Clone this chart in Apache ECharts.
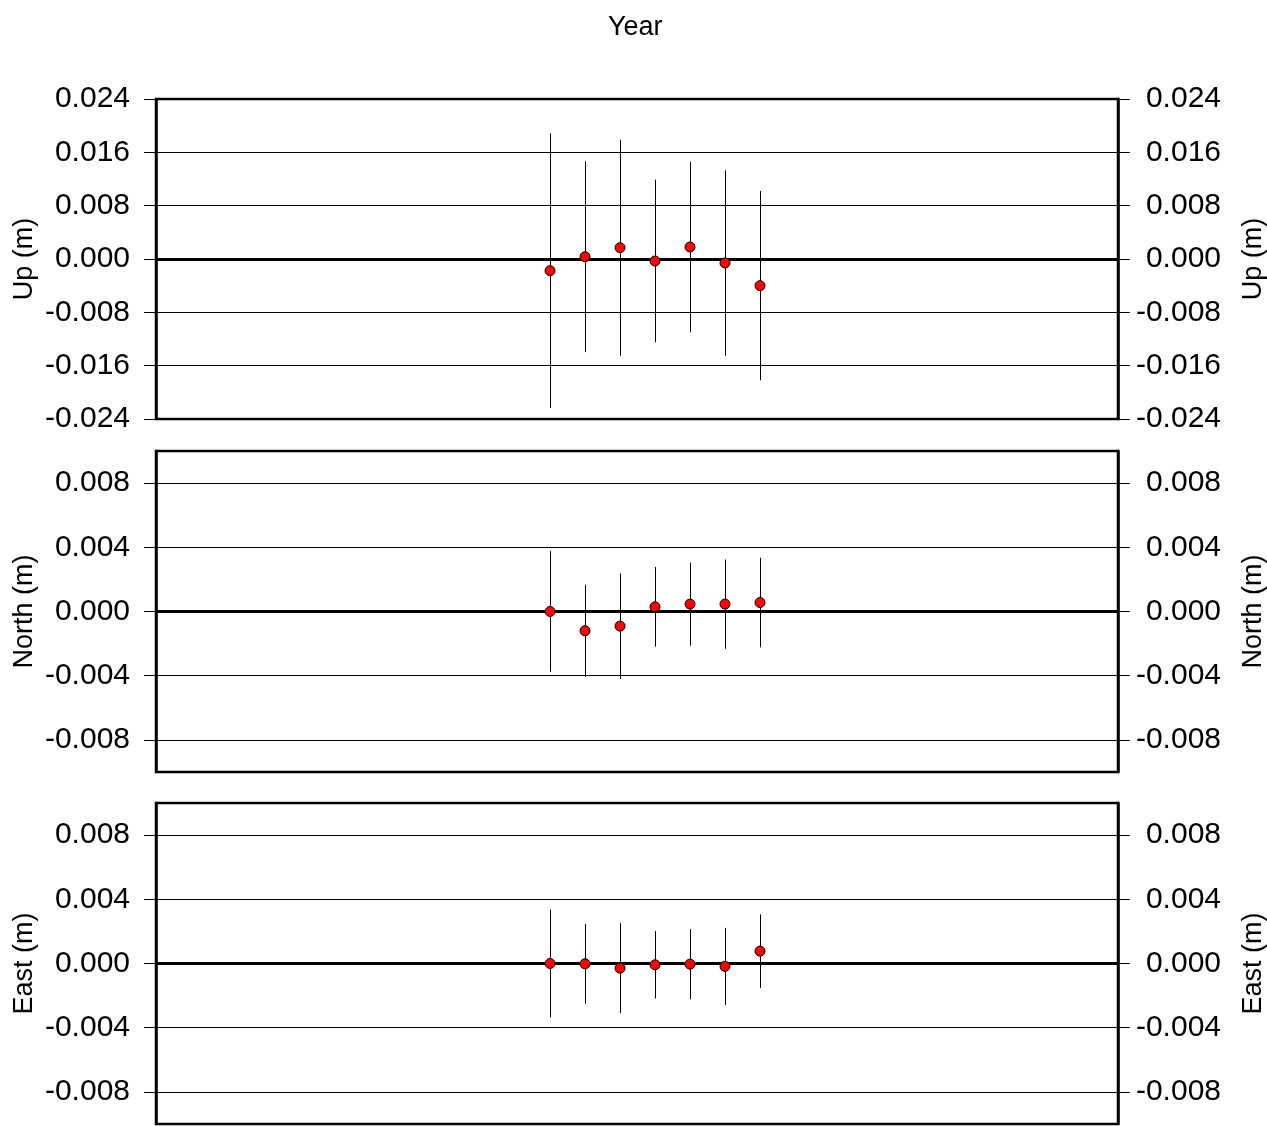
<!DOCTYPE html>
<html>
<head>
<meta charset="utf-8">
<script src="https://cdn.jsdelivr.net/npm/echarts@6/dist/echarts.min.js"></script>
<style>html,body{margin:0;padding:0;background:#fff;}#c{width:1267px;height:1126px;}</style>
</head>
<body>
<div id="c"></div>
<script>
// epochs (index along the time axis)
const epochs = [1, 2, 3, 4, 5, 6, 7];
const xRange = [-10.26, 17.23];

// Up component (m): value and half-length of error bar
const upValues = [-0.00175, 0.00034, 0.0017, -0.0003, 0.0018, -0.0006, -0.0040];
const upErrors = [0.0206, 0.0143, 0.0162, 0.0122, 0.0128, 0.0139, 0.0142];

// North component (m)
const northValues = [0.0, -0.0012, -0.00091, 0.00029, 0.00046, 0.00046, 0.00056];
const northErrors = [0.00376, 0.00287, 0.00328, 0.00248, 0.00259, 0.00278, 0.00279];

// East component (m)
const eastValues = [0.0, -0.00002, -0.00029, -0.00008, -0.00004, -0.00018, 0.00077];
const eastErrors = [0.00336, 0.00248, 0.0028, 0.0021, 0.00219, 0.0024, 0.00229];

// axis ticks
const upTicks = [-0.024, -0.016, -0.008, 0, 0.008, 0.016, 0.024];
const neTicks = [-0.008, -0.004, 0, 0.004, 0.008];

const panels = [
  { name: 'Up (m)', values: upValues, errors: upErrors, min: -0.024, max: 0.024, ticks: upTicks, top: 99, height: 320 },
  { name: 'North (m)', values: northValues, errors: northErrors, min: -0.01, max: 0.01, ticks: neTicks, top: 451, height: 321 },
  { name: 'East (m)', values: eastValues, errors: eastErrors, min: -0.01, max: 0.01, ticks: neTicks, top: 803, height: 321 }
];

const FONT = '"Liberation Sans", Arial, sans-serif';
const chart = echarts.init(document.getElementById('c'), null, { renderer: 'canvas' });

const grids = [], xAxes = [], yAxes = [], series = [];
panels.forEach((p, i) => {
  grids.push({ left: 156, right: 149, top: p.top, height: p.height, show: true, borderColor: '#000', borderWidth: 2.5,
    backgroundColor: 'transparent', containLabel: false, outerBoundsMode: 'none' });
  xAxes.push({ type: 'value', gridIndex: i, min: xRange[0], max: xRange[1], show: false });
  const yBase = (side) => ({
    type: 'value', gridIndex: i, position: side, min: p.min, max: p.max,
    name: p.name, nameLocation: 'middle', nameRotate: 90, nameMoveOverlap: false,
    nameGap: side === 'left' ? 118 : 122,
    nameTextStyle: { fontFamily: FONT, fontSize: 27, color: '#000' },
    axisLine: { show: true, onZero: false, lineStyle: { color: '#000', width: 2.5 } },
    axisTick: { show: true, inside: false, length: 12, customValues: p.ticks, lineStyle: { color: '#000', width: 1 } },
    axisLabel: { show: true, margin: side === 'left' ? 26 : 103, align: 'right', customValues: p.ticks,
      fontFamily: FONT, fontSize: 30, color: '#000',
      formatter: v => (Math.abs(v) < 1e-12 ? 0 : v).toFixed(3) },
    splitLine: { show: side === 'left', lineStyle: { color: '#000', width: 1 } }
  });
  yAxes.push(yBase('left'));
  yAxes.push(yBase('right'));

  const errData = epochs.map((e, k) => [e, p.values[k] - p.errors[k], p.values[k] + p.errors[k]]);
  series.push({
    type: 'custom', xAxisIndex: i, yAxisIndex: 2 * i, silent: true, z: 3,
    data: errData,
    renderItem: (params, api) => {
      const a = api.coord([api.value(0), api.value(1)]);
      const b = api.coord([api.value(0), api.value(2)]);
      const x = Math.round(a[0]) + 0.5;
      return { type: 'line', shape: { x1: x, y1: a[1], x2: x, y2: b[1] }, style: { stroke: '#000', lineWidth: 1 } };
    }
  });
  series.push({
    type: 'scatter', xAxisIndex: i, yAxisIndex: 2 * i, z: 5,
    symbol: 'circle', symbolSize: 10,
    itemStyle: { color: '#ff0000', borderColor: '#000', borderWidth: 1, opacity: 1 },
    data: epochs.map((e, k) => [e, p.values[k]]),
    markLine: {
      silent: true, symbol: 'none', label: { show: false }, animation: false,
      lineStyle: { color: '#000', width: 3, type: 'solid' },
      data: [{ yAxis: 0 }]
    }
  });
});

chart.setOption({
  animation: false,
  backgroundColor: '#fff',
  title: { text: 'Year', left: 603, top: 9, textStyle: { fontFamily: FONT, fontSize: 27, fontWeight: 'normal', color: '#000' } },
  grid: grids, xAxis: xAxes, yAxis: yAxes, series: series
});
</script>
</body>
</html>
